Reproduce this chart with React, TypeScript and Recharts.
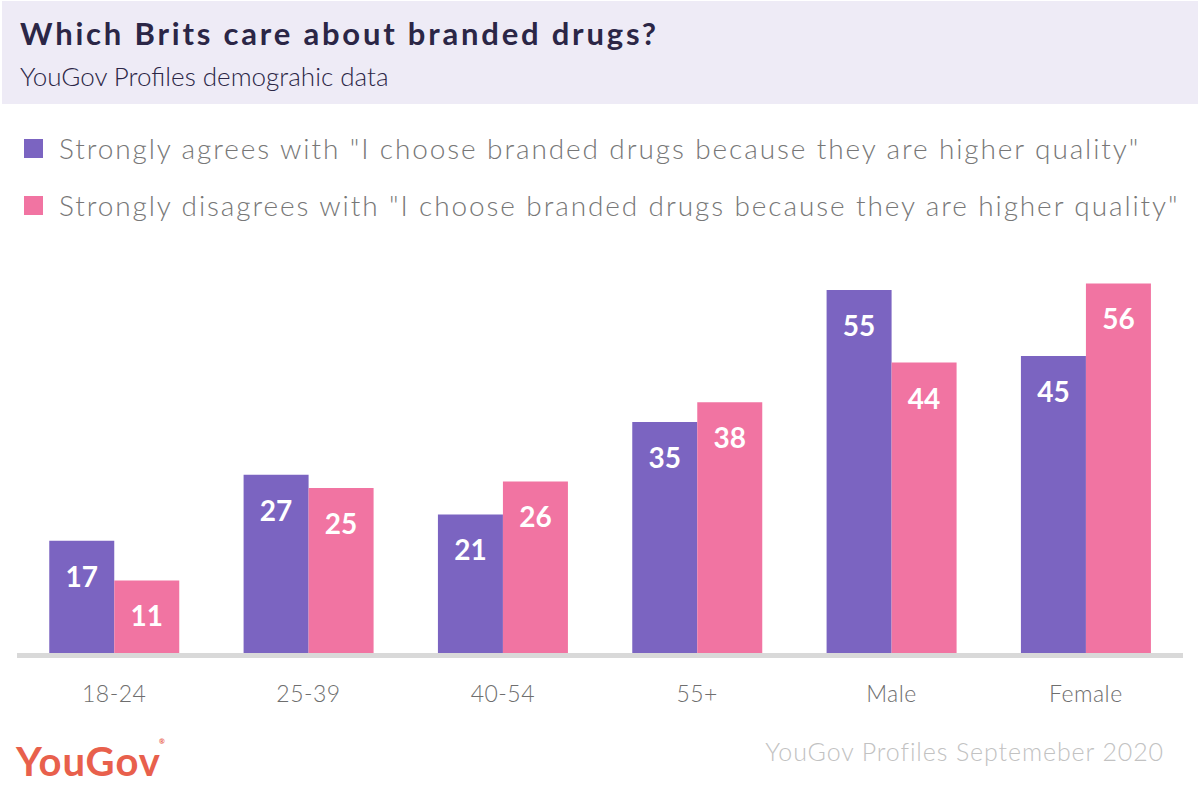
import React from "react";
import { BarChart, Bar, XAxis, YAxis, LabelList, ReferenceLine } from "recharts";

const categories = ["18-24", "25-39", "40-54", "55+", "Male", "Female"];
const agreeValues = [17, 27, 21, 35, 55, 45];
const disagreeValues = [11, 25, 26, 38, 44, 56];
const seriesNames = [
  'Strongly agrees with "I choose branded drugs because they are higher quality"',
  'Strongly disagrees with "I choose branded drugs because they are higher quality"',
];
const title = "Which Brits care about branded drugs?";
const subtitle = "YouGov Profiles demograhic data";
const source = "YouGov Profiles Septemeber 2020";

const PURPLE = "#7B64C1";
const PINK = "#F174A2";
const FONT = "Lato, 'Open Sans', sans-serif";

const data = categories.map((c, i) => ({
  name: c,
  agree: agreeValues[i],
  disagree: disagreeValues[i],
}));

const BarLabel = (props: any) => {
  const { x, y, width, value } = props;
  return (
    <text
      x={x + width / 2}
      y={y + 35}
      textAnchor="middle"
      dominantBaseline="central"
      fill="#ffffff"
      fontFamily={FONT}
      fontWeight={700}
      fontSize={28}
    >
      {value}
    </text>
  );
};

const Tick = (props: any) => {
  const { x, y, payload } = props;
  return (
    <text
      x={x}
      y={y}
      dy={32}
      textAnchor="middle"
      dominantBaseline="central"
      fill="#6e6e6e"
      fontFamily={FONT}
      fontWeight={300}
      fontSize={23}
      letterSpacing={0.5}
    >
      {payload.value}
    </text>
  );
};

const BaseLine = (props: any) => {
  const { x1, x2, y1 } = props;
  return <line x1={x1} x2={x2} y1={y1 + 2.5} y2={y1 + 2.5} stroke="#d9d9d9" strokeWidth={5} />;
};

export default function App() {
  const colors = [PURPLE, PINK];
  return (
    <div
      style={{
        position: "absolute",
        left: 0,
        top: 0,
        width: 1200,
        height: 791,
        background: "#ffffff",
        overflow: "hidden",
        fontFamily: FONT,
      }}
    >
      <div
        style={{
          position: "absolute",
          left: 2,
          top: 1,
          width: 1196,
          height: 103,
          background: "#EEEBF6",
        }}
      />
      <div
        style={{
          position: "absolute",
          left: 20,
          top: 14,
          fontSize: 31,
          fontWeight: 700,
          color: "#2B2646",
          whiteSpace: "nowrap",
          letterSpacing: 2.8,
        }}
      >
        {title}
      </div>
      <div
        style={{
          position: "absolute",
          left: 20,
          top: 60,
          fontSize: 26,
          fontWeight: 300,
          color: "#2B2646",
          whiteSpace: "nowrap",
        }}
      >
        {subtitle}
      </div>
      {seriesNames.map((n, i) => (
        <div
          key={n}
          style={{
            position: "absolute",
            left: 24,
            top: 131 + i * 57,
            height: 34,
            display: "flex",
            alignItems: "center",
            whiteSpace: "nowrap",
          }}
        >
          <div style={{ width: 19, height: 19, background: colors[i], marginRight: 16 }} />
          <span style={{ fontSize: 28, fontWeight: 300, color: "#777777", letterSpacing: 1.9 }}>{n}</span>
        </div>
      ))}
      <div style={{ position: "absolute", left: 0, top: 0 }}>
        <BarChart
          width={1200}
          height={791}
          data={data}
          margin={{ top: 257, right: 17, bottom: 78, left: 17 }}
          barCategoryGap="16.6%"
          barGap={0}
        >
          <XAxis
            dataKey="name"
            axisLine={false}
            tickLine={false}
            height={60}
            tick={<Tick />}
            interval={0}
          />
          <YAxis hide domain={[0, 60]} />
          <ReferenceLine y={0} shape={<BaseLine />} />
          <Bar dataKey="agree" fill={PURPLE} isAnimationActive={false}>
            <LabelList dataKey="agree" content={<BarLabel />} />
          </Bar>
          <Bar dataKey="disagree" fill={PINK} isAnimationActive={false}>
            <LabelList dataKey="disagree" content={<BarLabel />} />
          </Bar>
        </BarChart>
      </div>
      <div
        style={{
          position: "absolute",
          left: 16,
          top: 737,
          fontSize: 40,
          fontWeight: 700,
          color: "#E8604C",
          letterSpacing: 1,
          whiteSpace: "nowrap",
        }}
      >
        YouGov
        <span style={{ fontSize: 7, verticalAlign: "top", letterSpacing: 0, marginLeft: -2 }}>®</span>
      </div>
      <div
        style={{
          position: "absolute",
          right: 36,
          top: 736,
          fontSize: 25,
          fontWeight: 300,
          color: "#C2C2C2",
          whiteSpace: "nowrap",
          letterSpacing: 0.9,
        }}
      >
        {source}
      </div>
    </div>
  );
}
